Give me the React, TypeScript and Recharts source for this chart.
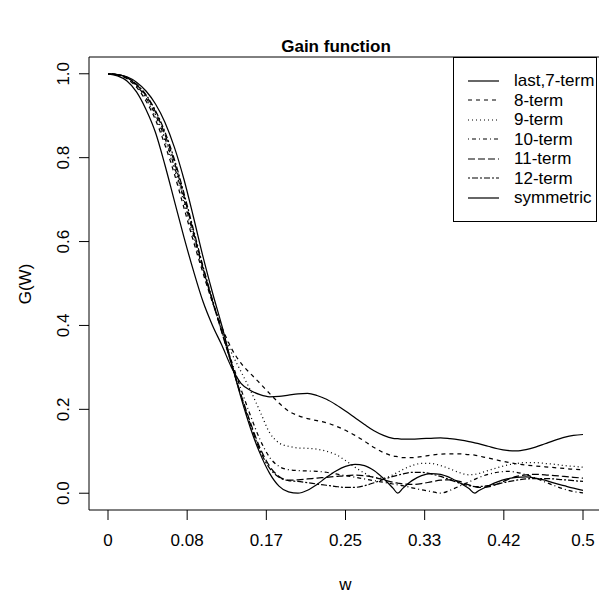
import React from 'react';
import { LineChart, Line, XAxis, YAxis, ReferenceArea, Legend } from 'recharts';

// frequency grid (extra points where the symmetric gain touches zero)
const W = [
  0, 0.01, 0.02, 0.03, 0.04, 0.05, 0.06, 0.07, 0.08, 0.09,
  0.1, 0.11, 0.12, 0.13, 0.14, 0.15, 0.16, 0.17, 0.18, 0.19,
  0.2, 0.21, 0.22, 0.23, 0.24, 0.25, 0.26, 0.27, 0.28, 0.29, 0.3,
  0.305,
  0.31, 0.32, 0.33, 0.34, 0.35, 0.36, 0.37, 0.38,
  0.386,
  0.39, 0.4, 0.41, 0.42, 0.43, 0.44, 0.45, 0.46, 0.47, 0.48, 0.49, 0.5,
];

const G7 = [
  1.0, 0.995, 0.983, 0.957, 0.915, 0.86, 0.782, 0.696, 0.61, 0.53,
  0.457, 0.4, 0.352, 0.3, 0.262, 0.245, 0.235, 0.23, 0.231, 0.234,
  0.237, 0.238, 0.233, 0.224, 0.211, 0.196, 0.18, 0.164, 0.149, 0.138, 0.131,
  0.13,
  0.129, 0.129, 0.13, 0.131, 0.132, 0.13, 0.127, 0.123,
  0.12,
  0.118, 0.112, 0.106, 0.102, 0.101, 0.104, 0.11, 0.118, 0.126, 0.133, 0.138, 0.14,
];

const G8 = [
  1.0, 0.997, 0.988, 0.968, 0.935, 0.89, 0.83, 0.76, 0.68, 0.6,
  0.525, 0.455, 0.395, 0.345, 0.31, 0.285, 0.262, 0.238, 0.215, 0.196,
  0.185, 0.178, 0.173, 0.168, 0.16, 0.15, 0.138, 0.124, 0.109, 0.097, 0.089,
  0.087,
  0.085, 0.085, 0.087, 0.091, 0.093, 0.094, 0.094, 0.092,
  0.091,
  0.089, 0.084, 0.079, 0.074, 0.07, 0.067, 0.065, 0.063, 0.061, 0.059, 0.057, 0.056,
];

const G9 = [
  1.0, 0.997, 0.989, 0.97, 0.94, 0.897, 0.84, 0.772, 0.693, 0.61,
  0.53, 0.455, 0.39, 0.335, 0.29, 0.245, 0.195, 0.145, 0.12, 0.112,
  0.108, 0.107, 0.105, 0.1, 0.092, 0.078, 0.062, 0.048, 0.038, 0.036, 0.044,
  0.05,
  0.056, 0.066, 0.071, 0.071, 0.066, 0.058, 0.049, 0.044,
  0.045,
  0.047, 0.054, 0.061, 0.067, 0.071, 0.073, 0.073, 0.071, 0.069, 0.066, 0.064, 0.062,
];

const G10 = [
  1.0, 0.998, 0.99, 0.972, 0.943, 0.902, 0.846, 0.778, 0.7, 0.616,
  0.535, 0.458, 0.385, 0.315, 0.248, 0.185, 0.128, 0.086, 0.064, 0.056,
  0.054, 0.053, 0.052, 0.05, 0.046, 0.042, 0.038, 0.034, 0.03, 0.026, 0.022,
  0.02,
  0.018, 0.013, 0.008, 0.004, 0.0, 0.007, 0.017, 0.027,
  0.033,
  0.037, 0.045, 0.05, 0.052, 0.05, 0.044, 0.036, 0.027, 0.018, 0.01, 0.004, 0.001,
];

const G11 = [
  1.0, 0.998, 0.991, 0.974, 0.948, 0.909, 0.855, 0.788, 0.708, 0.622,
  0.537, 0.458, 0.382, 0.308, 0.235, 0.168, 0.108, 0.065, 0.04, 0.031,
  0.032, 0.034, 0.036, 0.038, 0.04, 0.042, 0.043, 0.042, 0.038, 0.032, 0.026,
  0.024,
  0.022, 0.021, 0.023, 0.027, 0.031, 0.032, 0.028, 0.02,
  0.016,
  0.014, 0.015, 0.022, 0.032, 0.04, 0.044, 0.045, 0.044, 0.042, 0.04, 0.038, 0.036,
];

const G12 = [
  1.0, 0.998, 0.991, 0.975, 0.95, 0.912, 0.861, 0.795, 0.715, 0.628,
  0.541, 0.461, 0.384, 0.308, 0.232, 0.163, 0.102, 0.06, 0.038, 0.03,
  0.028, 0.025, 0.022, 0.019, 0.016, 0.014, 0.014, 0.018, 0.025, 0.033, 0.04,
  0.043,
  0.046, 0.05, 0.05, 0.046, 0.04, 0.032, 0.024, 0.018,
  0.016,
  0.016, 0.018, 0.022, 0.027, 0.031, 0.034, 0.035, 0.035, 0.034, 0.032, 0.03, 0.028,
];

const GSYM = [
  1.0, 0.998, 0.993, 0.98, 0.959, 0.928, 0.884, 0.824, 0.748, 0.658,
  0.564, 0.478, 0.398, 0.31, 0.228, 0.155, 0.095, 0.048, 0.017, 0.003,
  0.0, 0.007, 0.021, 0.038, 0.053, 0.064, 0.069, 0.066, 0.054, 0.035, 0.012,
  0.0,
  0.011, 0.03, 0.042, 0.047, 0.045, 0.037, 0.025, 0.011,
  0.0,
  0.006, 0.017, 0.027, 0.034, 0.038, 0.039, 0.036, 0.031, 0.024, 0.018, 0.012, 0.007,
];

const X_TICKS = [0, 0.08333, 0.16667, 0.25, 0.33333, 0.41667, 0.5];
const X_LABELS = ['0', '0.08', '0.17', '0.25', '0.33', '0.42', '0.5'];
const Y_TICKS = [0, 0.2, 0.4, 0.6, 0.8, 1.0];

const SERIES = [
  { key: 'g7', name: 'last,7-term', dash: undefined },
  { key: 'g8', name: '8-term', dash: '4 4' },
  { key: 'g9', name: '9-term', dash: '1 3' },
  { key: 'g10', name: '10-term', dash: '1 3 4 3' },
  { key: 'g11', name: '11-term', dash: '7 3' },
  { key: 'g12', name: '12-term', dash: '2 2 6 2' },
  { key: 'gsym', name: 'symmetric', dash: undefined },
];

const FONT = '"Liberation Sans", Arial, Helvetica, sans-serif';

const data = W.map((w, i) => ({
  w,
  g7: G7[i],
  g8: G8[i],
  g9: G9[i],
  g10: G10[i],
  g11: G11[i],
  g12: G12[i],
  gsym: GSYM[i],
}));

const YTick = ({ x, y, payload }: any) => (
  <text
    x={x}
    y={y}
    transform={`rotate(-90, ${x}, ${y})`}
    textAnchor="middle"
    fontSize={17}
    fontFamily={FONT}
    fill="#000"
  >
    {payload.value.toFixed(1)}
  </text>
);

const LegendBox = () => (
  <div
    style={{
      width: 144,
      height: 165,
      border: '1px solid #000',
      background: '#fff',
      boxSizing: 'border-box',
      fontFamily: FONT,
      fontSize: 17,
      paddingTop: 13,
    }}
  >
    {SERIES.map((s) => (
      <div key={s.key} style={{ height: 19.5, display: 'flex', alignItems: 'center' }}>
        <svg width={60} height={10} style={{ flex: 'none' }}>
          <line x1={14} x2={45} y1={5} y2={5} stroke="#000" strokeWidth={1.2} strokeDasharray={s.dash} />
        </svg>
        <span style={{ lineHeight: '19.5px' }}>{s.name}</span>
      </div>
    ))}
  </div>
);

export default function App() {
  return (
    <div style={{ position: 'absolute', left: 0, top: 0, width: 599, height: 594, overflow: 'hidden', background: '#fff' }}>
      <div
        style={{
          position: 'absolute',
          left: 0,
          width: 672,
          top: 37,
          textAlign: 'center',
          fontFamily: FONT,
          fontWeight: 'bold',
          fontSize: 17,
        }}
      >
        Gain function
      </div>
      <div
        style={{
          position: 'absolute',
          left: 0,
          width: 691,
          top: 575,
          textAlign: 'center',
          fontFamily: FONT,
          fontSize: 17,
          lineHeight: '19px',
        }}
      >
        w
      </div>
      <div
        style={{
          position: 'absolute',
          left: 26,
          top: 284,
          transform: 'translate(-50%, -50%) rotate(-90deg)',
          fontFamily: FONT,
          fontSize: 17,
          whiteSpace: 'nowrap',
        }}
      >
        G(W)
      </div>
      <LineChart
        width={615}
        height={594}
        data={data}
        margin={{ top: 57, right: 13, bottom: 54, left: 59 }}
        style={{ position: 'absolute', left: 0, top: 0 }}
      >
        <XAxis
          type="number"
          dataKey="w"
          domain={[-0.02, 0.52]}
          ticks={X_TICKS}
          tickFormatter={(v: number) => X_LABELS[X_TICKS.indexOf(v)]}
          axisLine={false}
          tickLine={{ stroke: '#000' }}
          tickSize={10}
          tickMargin={14}
          height={30}
          tick={{ fill: '#000', fontSize: 17, fontFamily: FONT }}
          allowDataOverflow
        />
        <YAxis
          type="number"
          domain={[-0.04, 1.04]}
          ticks={Y_TICKS}
          axisLine={false}
          tickLine={{ stroke: '#000' }}
          tickSize={10}
          tickMargin={10}
          width={30}
          tick={<YTick />}
          allowDataOverflow
        />
        <ReferenceArea
          x1={-0.02}
          x2={0.52}
          y1={-0.04}
          y2={1.04}
          fill="none"
          stroke="#000"
          strokeWidth={1}
          ifOverflow="visible"
        />
        {SERIES.map((s) => (
          <Line
            key={s.key}
            type="monotone"
            dataKey={s.key}
            name={s.name}
            stroke="#000"
            strokeWidth={1.25}
            strokeDasharray={s.dash}
            dot={false}
            activeDot={false}
            isAnimationActive={false}
          />
        ))}
        <Legend
          layout="horizontal"
          verticalAlign="middle"
          align="center"
          content={<LegendBox />}
          wrapperStyle={{ left: 453, top: 57, width: 144, height: 165 }}
        />
      </LineChart>
    </div>
  );
}
